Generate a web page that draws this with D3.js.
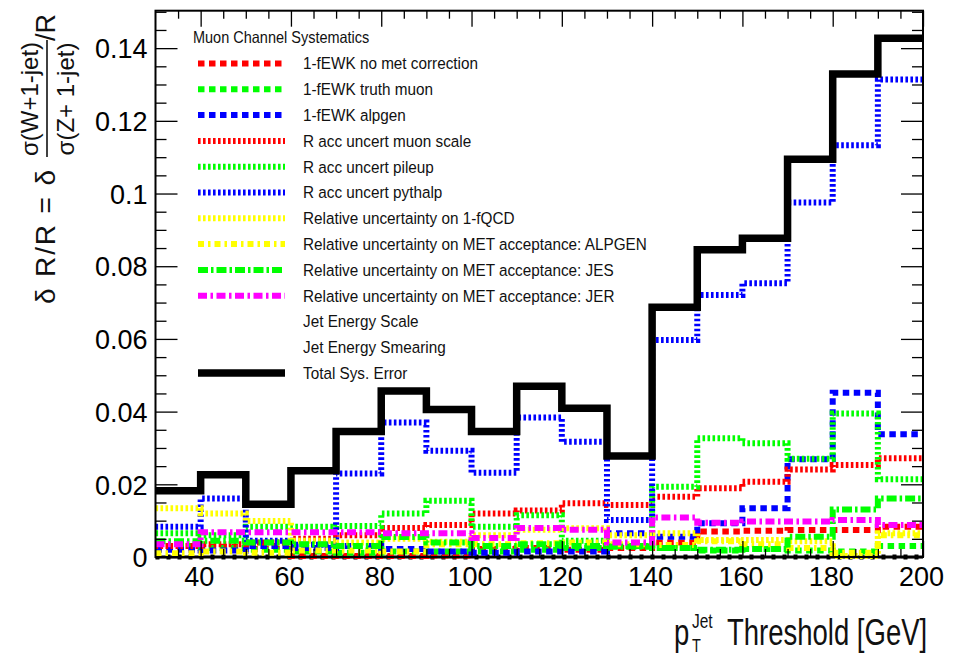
<!DOCTYPE html>
<html>
<head>
<meta charset="utf-8">
<script src="https://cdn.jsdelivr.net/npm/d3@7"></script>
<style>
  html, body { margin: 0; padding: 0; background: #fff; }
  svg { display: block; font-family: "Liberation Sans", Arial, Helvetica, sans-serif; }
</style>
</head>
<body>
<svg id="chart" width="953" height="657"></svg>
<script>
// Lower edges of the 10 GeV pT threshold bins; last bin ends at 200 GeV
const binLow = [30, 40, 50, 60, 70, 80, 90, 100, 110, 120, 130, 140, 150, 160, 170, 180, 190];
const binHigh = 200;

// Relative systematic uncertainties per bin
const ewkNoMet       = [0.0025, 0.0028, 0.0022, 0.0003, 0.0003, 0.0003, 0.0004, 0.0022, 0.0025, 0.0020, 0.0025, 0.0040, 0.0070, 0.0072, 0.0074, 0.0074, 0.0083];
const ewkTruthMuon   = [0.0030, 0.0025, 0.0020, 0.0015, 0.0012, 0.0015, 0.0015, 0.0015, 0.0020, 0.0025, 0.0030, 0.0025, 0.0018, 0.0022, 0.0018, 0.0015, 0.0030];
const ewkAlpgen      = [0.0020, 0.0018, 0.0030, 0.0025, 0.0030, 0.0022, 0.0015, 0.0012, 0.0015, 0.0015, 0.0065, 0.0056, 0.0093, 0.0134, 0.0269, 0.0452, 0.0338];
const accMuonScale   = [0.0030, 0.0035, 0.0040, 0.0050, 0.0060, 0.0080, 0.0088, 0.0120, 0.0128, 0.0148, 0.0143, 0.0166, 0.0189, 0.0207, 0.0241, 0.0253, 0.0272];
const accPileup      = [0.0065, 0.0060, 0.0083, 0.0083, 0.0085, 0.0120, 0.0155, 0.0083, 0.0115, 0.0045, 0.0030, 0.0193, 0.0327, 0.0313, 0.0270, 0.0395, 0.0214];
const accPythalp     = [0.0083, 0.0161, 0.0045, 0.0034, 0.0230, 0.0370, 0.0292, 0.0232, 0.0384, 0.0317, 0.0102, 0.0597, 0.0721, 0.0753, 0.0975, 0.1133, 0.1314];
const qcdFraction    = [0.0134, 0.0120, 0.0099, 0.0045, 0.0040, 0.0050, 0.0042, 0.0060, 0.0075, 0.0079, 0.0060, 0.0065, 0.0047, 0.0047, 0.0043, 0.0003, 0.0065];
const metAlpgen      = [0.0010, 0.0015, 0.0012, 0.0018, 0.0018, 0.0015, 0.0035, 0.0035, 0.0038, 0.0040, 0.0035, 0.0033, 0.0043, 0.0035, 0.0025, 0.0012, 0.0060];
const metJES         = [0.0043, 0.0045, 0.0040, 0.0035, 0.0030, 0.0055, 0.0040, 0.0030, 0.0035, 0.0030, 0.0028, 0.0025, 0.0020, 0.0022, 0.0056, 0.0131, 0.0161];
const metJER         = [0.0035, 0.0068, 0.0068, 0.0068, 0.0068, 0.0065, 0.0065, 0.0052, 0.0080, 0.0075, 0.0040, 0.0109, 0.0094, 0.0098, 0.0098, 0.0102, 0.0088];
const jetEnergyScale = [0, 0, 0, 0, 0, 0, 0, 0, 0, 0, 0, 0, 0, 0, 0, 0, 0];
const jetEnergySmear = [0, 0, 0, 0, 0, 0, 0, 0, 0, 0, 0, 0, 0, 0, 0, 0, 0];
const totalSys       = [0.0182, 0.0226, 0.0145, 0.0237, 0.0345, 0.0457, 0.0406, 0.0345, 0.0470, 0.0409, 0.0278, 0.0687, 0.0845, 0.0877, 0.1094, 0.1329, 0.1427];

// Axis ticks and labels
const xMajorTicks = [40, 60, 80, 100, 120, 140, 160, 180, 200];
const xMinorTicks = [35, 45, 50, 55, 65, 70, 75, 85, 90, 95, 105, 110, 115, 125, 130, 135, 145, 150, 155, 165, 170, 175, 185, 190, 195];
const yMajorTicks = [0, 0.02, 0.04, 0.06, 0.08, 0.1, 0.12, 0.14];
const yTickLabels = ["0", "0.02", "0.04", "0.06", "0.08", "0.1", "0.12", "0.14"];
const yMinorTicks = [0.005, 0.01, 0.015, 0.025, 0.03, 0.035, 0.045, 0.05, 0.055, 0.065, 0.07, 0.075, 0.085, 0.09, 0.095, 0.105, 0.11, 0.115, 0.125, 0.13, 0.135, 0.145, 0.15];

// Series table: legend order; drawing order handled below
const series = [
  { name: "1-fEWK no met correction", values: ewkNoMet,     color: "#ff0000", width: 6, dash: "6.5,4.5" },
  { name: "1-fEWK truth muon",        values: ewkTruthMuon, color: "#00ff00", width: 6, dash: "6.5,4.5" },
  { name: "1-fEWK alpgen",            values: ewkAlpgen,    color: "#0000ff", width: 6, dash: "6.5,4.5" },
  { name: "R acc uncert muon scale",  values: accMuonScale, color: "#ff0000", width: 6, dash: "2.6,2.4" },
  { name: "R acc uncert pileup",      values: accPileup,    color: "#00ff00", width: 6, dash: "2.6,2.4" },
  { name: "R acc uncert pythalp",     values: accPythalp,   color: "#0000ff", width: 6, dash: "2.6,2.4" },
  { name: "Relative uncertainty on 1-fQCD", values: qcdFraction, color: "#ffff00", width: 6, dash: "2.6,2.4" },
  { name: "Relative uncertainty on MET acceptance: ALPGEN", values: metAlpgen, color: "#ffff00", width: 6, dash: "6,4,2.5,4" },
  { name: "Relative uncertainty on MET acceptance: JES",    values: metJES,    color: "#00ff00", width: 6, dash: "10,3,2.5,3" },
  { name: "Relative uncertainty on MET acceptance: JER",    values: metJER,    color: "#ff00ff", width: 6, dash: "9,3.5,2.5,3.5" },
  { name: "Jet Energy Scale",    values: jetEnergyScale, color: "#000000", width: 5, dash: "4,7", noSample: true },
  { name: "Jet Energy Smearing", values: jetEnergySmear, color: "#000000", width: 3, dash: null, noSample: true },
  { name: "Total Sys. Error",    values: totalSys, color: "#000000", width: 7.5, dash: null }
];

const svg = d3.select("#chart");

// Frame geometry
const frameL = 155.5, frameR = 923, frameT = 10.7, frameB = 557;
const x = d3.scaleLinear().domain([30, 200]).range([frameL, frameR]);
const y = d3.scaleLinear().domain([0, 0.1503]).range([frameB, frameT]);

// Histogram outline as steps
const step = d3.line().curve(d3.curveStepAfter);
function histPath(values) {
  const pts = binLow.map((b, i) => [x(b), y(values[i])]);
  pts.push([x(binHigh), y(values[values.length - 1])]);
  return step(pts);
}

const plot = svg.append("g");
// zero-level black lines first, then the coloured systematics, total on top
const order = [10, 11, 0, 1, 2, 3, 4, 5, 6, 7, 8, 9, 12];
order.forEach(k => {
  const s = series[k];
  plot.append("path")
    .attr("d", histPath(s.values))
    .attr("fill", "none")
    .attr("stroke", s.color)
    .attr("stroke-width", s.width)
    .attr("stroke-dasharray", s.dash)
    .attr("stroke-linejoin", "miter")
    .attr("stroke-linecap", "butt");
});

// Axes: ROOT style ticks pointing into the frame on all four sides
const tickStyle = g => {
  g.select(".domain").remove();
  g.selectAll(".tick line").attr("stroke", "#000").attr("stroke-width", 1.3);
};

svg.append("g").attr("transform", `translate(0,${frameB})`)
  .call(d3.axisBottom(x).tickValues(xMinorTicks).tickSize(-8).tickFormat(""))
  .call(tickStyle);
const xAx = svg.append("g").attr("transform", `translate(0,${frameB})`)
  .call(d3.axisBottom(x).tickValues(xMajorTicks).tickSize(-16).tickPadding(10).tickFormat(d3.format("d")))
  .call(tickStyle);
xAx.selectAll(".tick text")
  .attr("font-size", 27).attr("fill", "#000")
  .attr("font-family", "'Liberation Sans', Arial, sans-serif")
  .attr("x", -2);

svg.append("g").attr("transform", `translate(0,${frameT})`)
  .call(d3.axisTop(x).tickValues(xMinorTicks).tickSize(-8).tickFormat(""))
  .call(tickStyle);
svg.append("g").attr("transform", `translate(0,${frameT})`)
  .call(d3.axisTop(x).tickValues(xMajorTicks).tickSize(-16).tickFormat(""))
  .call(tickStyle);

svg.append("g").attr("transform", `translate(${frameL},0)`)
  .call(d3.axisLeft(y).tickValues(yMinorTicks).tickSize(-11).tickFormat(""))
  .call(tickStyle);
const yAx = svg.append("g").attr("transform", `translate(${frameL},0)`)
  .call(d3.axisLeft(y).tickValues(yMajorTicks).tickSize(-22).tickPadding(8)
    .tickFormat((d, i) => yTickLabels[i]))
  .call(tickStyle);
yAx.selectAll(".tick text")
  .attr("font-size", 27).attr("fill", "#000")
  .attr("font-family", "'Liberation Sans', Arial, sans-serif")
  .attr("dy", "0.36em");

svg.append("g").attr("transform", `translate(${frameR},0)`)
  .call(d3.axisRight(y).tickValues(yMinorTicks).tickSize(-11).tickFormat(""))
  .call(tickStyle);
svg.append("g").attr("transform", `translate(${frameR},0)`)
  .call(d3.axisRight(y).tickValues(yMajorTicks).tickSize(-22).tickFormat(""))
  .call(tickStyle);

// Frame
svg.append("rect")
  .attr("x", frameL).attr("y", frameT)
  .attr("width", frameR - frameL).attr("height", frameB - frameT)
  .attr("fill", "none").attr("stroke", "#000").attr("stroke-width", 2);

// Legend
const legend = svg.append("g");
legend.append("text")
  .attr("transform", "translate(193,43) scale(1,1.15)")
  .attr("font-size", 14.5).attr("fill", "#111")
  .text("Muon Channel Systematics");
const legY0 = 63.5, legDy = 25.8;
series.forEach((s, i) => {
  const cy = legY0 + i * legDy;
  if (!s.noSample) {
    legend.append("line")
      .attr("x1", 198).attr("x2", 285).attr("y1", cy).attr("y2", cy)
      .attr("stroke", s.color).attr("stroke-width", s.width)
      .attr("stroke-dasharray", s.dash);
  }
  legend.append("text")
    .attr("transform", `translate(303,${cy + 5.8}) scale(1,1.08)`)
    .attr("font-size", 15.3).attr("fill", "#111")
    .text(s.name);
});

// X axis title: p_T^Jet Threshold [GeV]
const xt = svg.append("g").attr("fill", "#111");
xt.append("text").attr("transform", "translate(674,645) scale(1,1.33)")
  .attr("font-size", 27.5).text("p");
xt.append("text").attr("transform", "translate(692,628) scale(1,1.3)")
  .attr("font-size", 15.5).text("Jet");
xt.append("text").attr("transform", "translate(692,652) scale(1,1.25)")
  .attr("font-size", 14.5).text("T");
xt.append("text").attr("transform", "translate(727,645) scale(1,1.33)")
  .attr("font-size", 27.5).text("Threshold [GeV]");

// Y axis title: δR/R = δ [σ(W+1-jet)/σ(Z+1-jet)] / R, rotated
const yt = svg.append("g").attr("fill", "#111");
yt.append("text").attr("transform", "translate(55,304) rotate(-90)")
  .attr("font-size", 28).attr("textLength", 134).attr("lengthAdjust", "spacing")
  .text("δ R/R = δ");
yt.append("text").attr("transform", "translate(38,99) rotate(-90)")
  .attr("font-size", 24).attr("text-anchor", "middle")
  .text("σ(W+1-jet)");
yt.append("line").attr("x1", 47).attr("x2", 47).attr("y1", 157).attr("y2", 40)
  .attr("stroke", "#111").attr("stroke-width", 1.6);
yt.append("text").attr("transform", "translate(74,99) rotate(-90)")
  .attr("font-size", 24).attr("text-anchor", "middle")
  .text("σ(Z+ 1-jet)");
yt.append("text").attr("transform", "translate(55,41) rotate(-90)")
  .attr("font-size", 27)
  .text("/R");
</script>
</body>
</html>
